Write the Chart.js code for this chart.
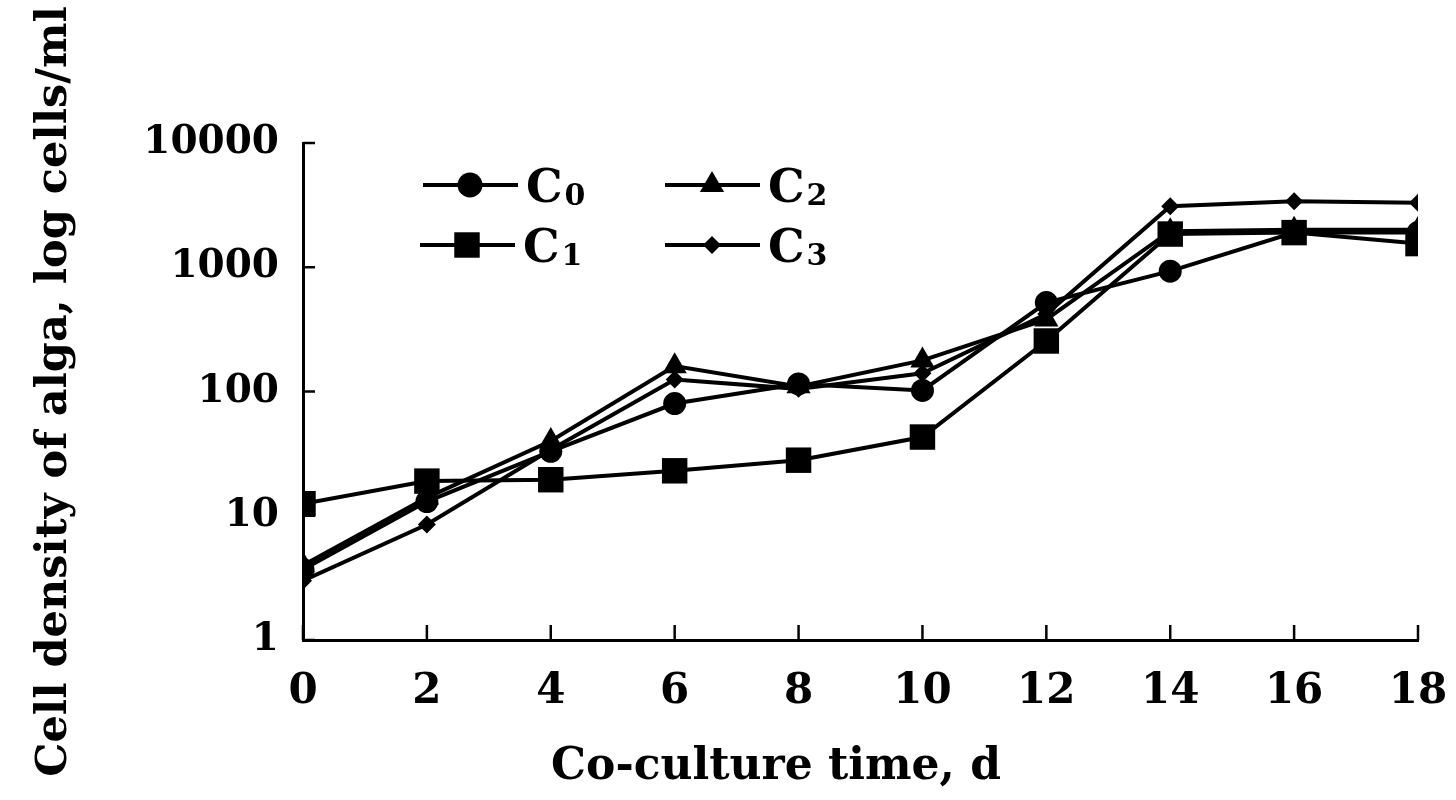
<!DOCTYPE html>
<html><head><meta charset="utf-8">
<script src="https://cdn.jsdelivr.net/npm/chart.js@4.4.1/dist/chart.umd.min.js"></script>
<style>html,body{margin:0;padding:0;background:#fff}#wrap{width:1456px;height:800px;position:relative}</style>
</head><body><div id="wrap"><canvas id="c"></canvas></div>
<script>
const days = [0, 2, 4, 6, 8, 10, 12, 14, 16, 18];
const c0 = [3.7, 13, 33, 80, 115, 102, 520, 930, 1900, 1900];
const c1 = [12.5, 19, 19.5, 23, 28, 43, 255, 1850, 1900, 1550];
const c2 = [4, 14, 40, 160, 110, 178, 380, 1950, 2000, 2000];
const c3 = [3, 8.5, 34, 125, 105, 140, 420, 3100, 3400, 3300];
const seriesBase = ['C', 'C', 'C', 'C'];
const seriesSub = ['0', '1', '2', '3'];
const yTicks = [1, 10, 100, 1000, 10000];
const xTitle = 'Co-culture time, d';
const yTitle = 'Cell density of alga, log cells/ml';

const FONT = "'DejaVu Serif', 'Liberation Serif', serif";
const styles = [
  {pointStyle: 'circle', radius: 11.5},
  {pointStyle: 'rect', radius: 18},
  {pointStyle: 'triangle', radius: 14},
  {pointStyle: 'rectRot', radius: 9}
];
const allSeries = [c0, c1, c2, c3];

const datasets = allSeries.map((s, k) => ({
  label: seriesBase[k] + seriesSub[k],
  data: days.map((d, i) => ({x: d, y: s[i]})),
  borderColor: '#000',
  backgroundColor: '#000',
  borderWidth: 4,
  pointStyle: styles[k].pointStyle,
  pointRadius: styles[k].radius,
  pointBorderWidth: 0,
  pointBackgroundColor: '#000',
  tension: 0
}));

function drawMarker(ctx, style, x, y, r) {
  ctx.beginPath();
  if (style === 'circle') ctx.arc(x, y, r, 0, Math.PI * 2);
  else if (style === 'rect') { const h = r * Math.SQRT1_2; ctx.rect(x - h, y - h, 2 * h, 2 * h); }
  else if (style === 'triangle') {
    ctx.moveTo(x, y - r);
    ctx.lineTo(x + r * 0.866, y + r * 0.5);
    ctx.lineTo(x - r * 0.866, y + r * 0.5);
    ctx.closePath();
  } else if (style === 'rectRot') {
    ctx.moveTo(x, y - r); ctx.lineTo(x + r, y); ctx.lineTo(x, y + r); ctx.lineTo(x - r, y); ctx.closePath();
  }
  ctx.fill();
}

const legendPlugin = {
  id: 'customLegend',
  afterDraw(chart) {
    const ctx = chart.ctx;
    const pos = [
      {x: 423, y: 185}, {x: 420, y: 245}, {x: 665, y: 185}, {x: 665, y: 245}
    ];
    ctx.save();
    ctx.fillStyle = '#000'; ctx.strokeStyle = '#000';
    allSeries.forEach((s, k) => {
      const p = pos[k];
      ctx.lineWidth = 4;
      ctx.beginPath(); ctx.moveTo(p.x, p.y); ctx.lineTo(p.x + 95, p.y); ctx.stroke();
      drawMarker(ctx, styles[k].pointStyle, p.x + 47, p.y, styles[k].radius + (k === 0 ? 1 : 0));
      ctx.font = 'bold 46px ' + FONT;
      ctx.textBaseline = 'alphabetic';
      ctx.textAlign = 'left';
      const tx = p.x + 103;
      ctx.fillText(seriesBase[k], tx, p.y + 17);
      const w = ctx.measureText(seriesBase[k]).width;
      ctx.font = 'bold 30px ' + FONT;
      ctx.fillText(seriesSub[k], tx + w + 2, p.y + 20);
    });
    // x-axis title
    ctx.font = 'bold 44px ' + FONT;
    ctx.textAlign = 'center';
    ctx.textBaseline = 'middle';
    ctx.fillText(xTitle, 776, 768);
    ctx.restore();
  }
};

const innerTicks = {
  id: 'innerTicks',
  afterDraw(chart) {
    const ctx = chart.ctx, xs = chart.scales.x, ys = chart.scales.y;
    ctx.save();
    ctx.strokeStyle = '#000'; ctx.lineWidth = 2.5;
    days.forEach(d => {
      const px = xs.getPixelForValue(d);
      ctx.beginPath(); ctx.moveTo(px, ys.bottom); ctx.lineTo(px, ys.bottom - 15); ctx.stroke();
    });
    yTicks.forEach(v => {
      const py = ys.getPixelForValue(v);
      ctx.beginPath(); ctx.moveTo(xs.left, py); ctx.lineTo(xs.left + 12, py); ctx.stroke();
    });
    ctx.restore();
  }
};

new Chart(document.getElementById('c'), {
  type: 'line',
  data: {datasets},
  plugins: [legendPlugin, innerTicks],
  options: {
    responsive: true,
    maintainAspectRatio: false,
    animation: false,
    layout: {padding: {left: 10, right: 38, top: 143, bottom: 4}},
    plugins: {legend: {display: false}, tooltip: {enabled: false}},
    scales: {
      x: {
        type: 'linear', min: 0, max: 18,
        afterBuildTicks: s => { s.ticks = days.map(v => ({value: v})); },
        afterFit: s => { s.height = 156; s.paddingRight = 0; s.paddingLeft = 0; },
        grid: {display: false, drawTicks: false},
        border: {display: true, color: '#000', width: 3},
        ticks: {color: '#000', font: {family: FONT, weight: 'bold', size: 42}, padding: 27, maxRotation: 0, autoSkip: false},
        title: {display: false}
      },
      y: {
        type: 'logarithmic', min: 1, max: 10000,
        afterBuildTicks: s => { s.ticks = yTicks.map(v => ({value: v})); },
        afterFit: s => { s.width = 293; s.paddingTop = 0; s.paddingBottom = 0; },
        grid: {display: false, drawTicks: false},
        border: {display: true, color: '#000', width: 3},
        ticks: {color: '#000', font: {family: FONT, weight: 'bold', size: 39}, padding: 24, callback: v => String(v)},
        title: {display: true, text: yTitle, color: '#000', font: {family: FONT, weight: 'bold', size: 43}, padding: {top: 19, bottom: 0}}
      }
    }
  }
});
</script>
</body></html>
